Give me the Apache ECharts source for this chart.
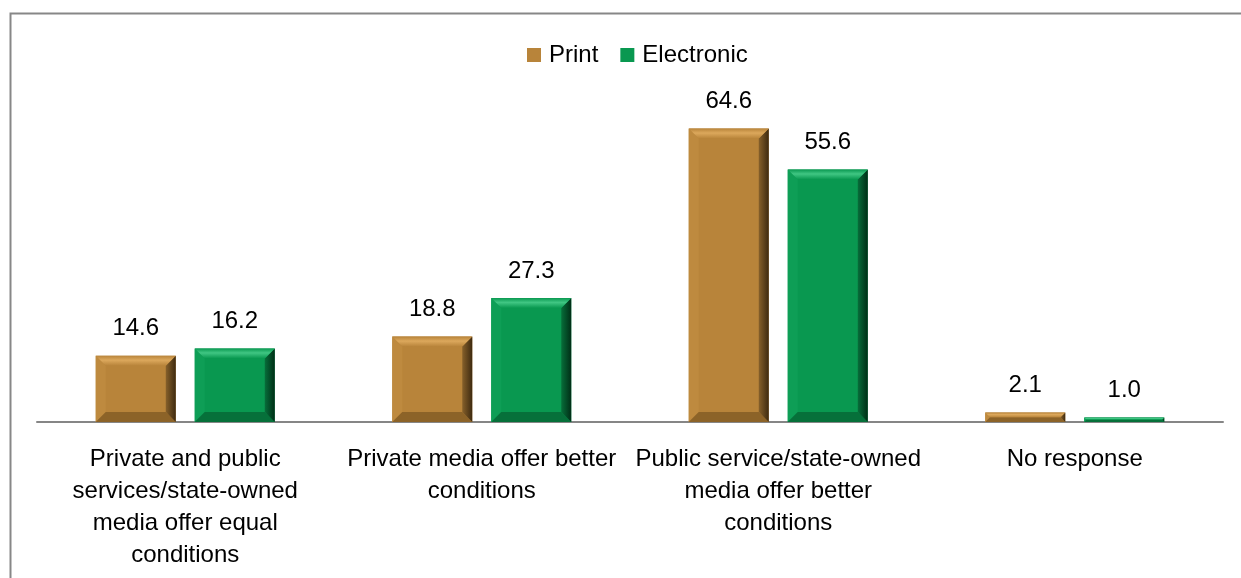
<!DOCTYPE html>
<html>
<head>
<meta charset="utf-8">
<script src="https://cdn.jsdelivr.net/npm/echarts@6/dist/echarts.min.js"></script>
<style>
html,body{margin:0;padding:0;background:#fff;}
#chart{width:1241px;height:578px;}
</style>
</head>
<body>
<div id="chart"></div>
<script>
var categories = [
  'Private and public\nservices/state-owned\nmedia offer equal\nconditions',
  'Private media offer better\nconditions',
  'Public service/state-owned\nmedia offer better\nconditions',
  'No response'
];
var seriesNames = ['Print', 'Electronic'];
var printValues = [14.6, 18.8, 64.6, 2.1];
var electronicValues = [16.2, 27.3, 55.6, 1.0];

var BAR_W = 80;
var BAR_GAP = 19;
var FONT = "'Liberation Sans', Arial, sans-serif";

var palettes = {
  Print: {base: '#B8843A', top: '#DCA85C', left: '#BE8A3F', right: '#3E2A10', rightIn: '#86602A', bottom: '#8C6328'},
  Electronic: {base: '#099850', top: '#40C683', left: '#0E9E56', right: '#002E16', rightIn: '#076E3A', bottom: '#06703A'}
};

function bevelRender(offset, pal) {
  return function (params, api) {
    var idx = api.value(0), v = api.value(1);
    var base = api.coord([idx, 0]);
    var top = api.coord([idx, v]);
    var cx = base[0] + offset;
    var x0 = cx - BAR_W / 2, x1 = cx + BAR_W / 2;
    var y0 = top[1], y1 = base[1];
    var h = y1 - y0;
    var b = Math.min(10, h / 2);
    return {
      type: 'group',
      children: [
        {type: 'polygon', shape: {points: [[x0, y0], [x0 + b, y0 + b], [x0 + b, y1 - b], [x0, y1]]}, style: {fill: pal.left}},
        {type: 'polygon', shape: {points: [[x0, y1], [x1, y1], [x1 - b, y1 - b], [x0 + b, y1 - b]]}, style: {fill: pal.bottom}},
        {type: 'polygon', shape: {points: [[x1, y0], [x1, y1], [x1 - b, y1 - b], [x1 - b, y0 + b]]},
          style: {fill: new echarts.graphic.LinearGradient(0, 0, 1, 0, [{offset: 0, color: pal.rightIn}, {offset: 1, color: pal.right}])}},
        {type: 'polygon', shape: {points: [[x0, y0], [x1, y0], [x1 - b, y0 + b], [x0 + b, y0 + b]]},
          style: {fill: new echarts.graphic.LinearGradient(0, 0, 0, 1, [{offset: 0, color: pal.base}, {offset: 0.45, color: pal.top}, {offset: 1, color: pal.base}])}}
      ]
    };
  };
}

function toPairs(arr) { return arr.map(function (v, i) { return [i, v]; }); }

var labelStyle = {
  show: true, position: 'top', distance: 15, color: '#000', fontSize: 24, fontFamily: FONT,
  formatter: function (p) { return Number(p.value).toFixed(1); }
};

var chart = echarts.init(document.getElementById('chart'), null, {renderer: 'canvas'});
var halfOff = (BAR_W + BAR_GAP) / 2;

chart.setOption({
  animation: false,
  backgroundColor: '#fff',
  graphic: [{
    type: 'rect', left: 8, top: 11, z: 100,
    shape: {x: 0, y: 0, width: 2000, height: 2000},
    style: {fill: 'none', stroke: '#878787', lineWidth: 2}
  }],
  legend: {
    data: seriesNames,
    left: 522, top: 38,
    itemWidth: 14, itemHeight: 14, itemGap: 22,
    icon: 'rect',
    textStyle: {fontSize: 24, fontFamily: FONT, color: '#000', padding: [0, 0, 0, 3]}
  },
  grid: {left: 37, right: 18, top: 104, bottom: 156, containLabel: false},
  xAxis: {
    type: 'category', data: categories,
    axisLine: {lineStyle: {color: '#868686', width: 2}},
    axisTick: {show: false},
    axisLabel: {interval: 0, margin: 21, color: '#000', fontSize: 24, fontFamily: FONT, lineHeight: 32, align: 'center'}
  },
  yAxis: {type: 'value', min: 0, max: 70, show: false, splitLine: {show: false}},
  series: [
    {name: 'Print', type: 'bar', data: printValues, barWidth: BAR_W, barGap: (BAR_GAP / BAR_W * 100) + '%',
      itemStyle: {color: palettes.Print.base}, label: labelStyle, z: 2},
    {name: 'Electronic', type: 'bar', data: electronicValues, barWidth: BAR_W,
      itemStyle: {color: palettes.Electronic.base}, label: labelStyle, z: 2},
    {name: 'PrintBevel', type: 'custom', data: toPairs(printValues), encode: {x: 0, y: 1},
      renderItem: bevelRender(-halfOff, palettes.Print), z: 3, silent: true},
    {name: 'ElectronicBevel', type: 'custom', data: toPairs(electronicValues), encode: {x: 0, y: 1},
      renderItem: bevelRender(halfOff, palettes.Electronic), z: 3, silent: true}
  ]
});
</script>
</body>
</html>
